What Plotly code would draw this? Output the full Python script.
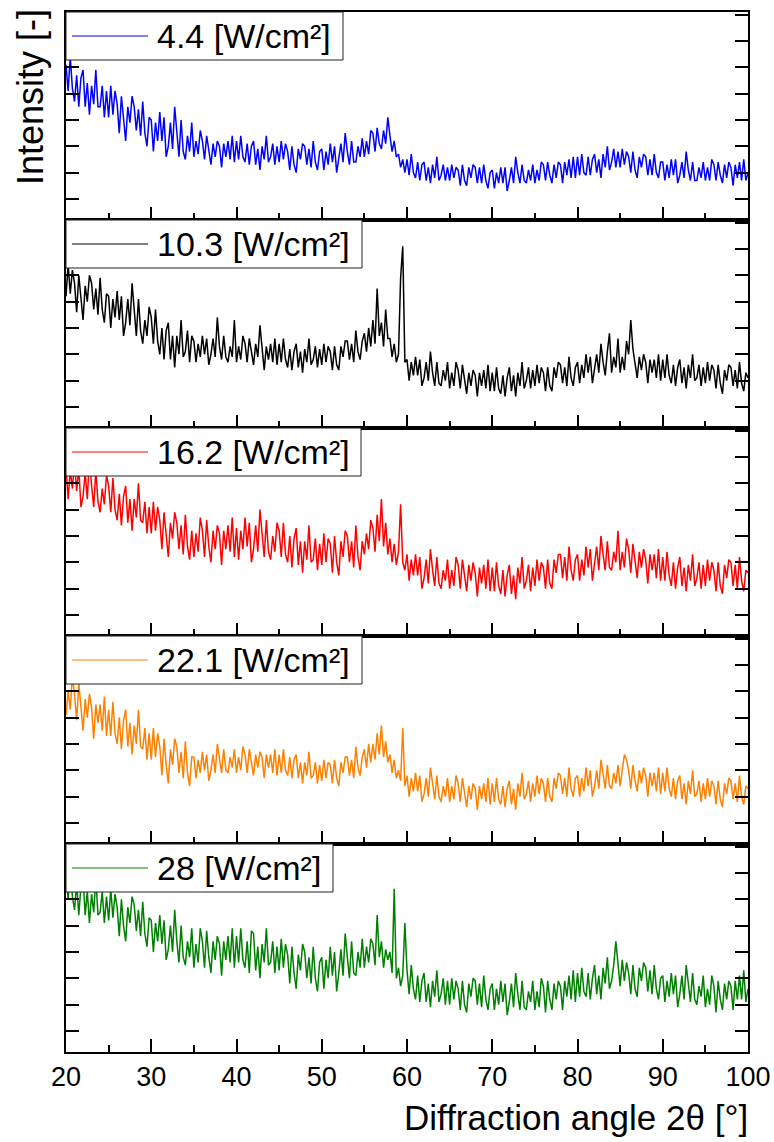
import numpy as np
import plotly.graph_objects as go
from plotly.subplots import make_subplots

# ---------------- data (intensity, arbitrary units; read every 0.25 deg from 20 to 100) ----------------
angle_min, angle_max = 20, 100
series_labels = ["4.4 [W/cm²]", "10.3 [W/cm²]", "16.2 [W/cm²]", "22.1 [W/cm²]", "28 [W/cm²]"]
series_colors = ["#0000FF", "#000000", "#FF0000", "#FF8000", "#008000"]

intensity_4_4 = [
    61,51,64,52, 47,57,45,56, 59,45,54,42, 53,46,59,45, 45,53,41,51,
    41,53,42,51, 46,35,49,39, 32,45,39,49, 45,36,44,34, 47,35,30,41,
    40,28,39,32, 43,32,41,26, 30,39,29,45, 34,26,40,28, 25,34,28,39,
    26,32,27,36, 32,25,34,28, 23,31,26,32, 30,22,31,26, 32,25,34,24,
    32,25,34,26, 24,31,23,30, 32,23,29,21, 30,25,34,24, 26,31,23,30,
    24,32,25,31, 28,21,30,23, 20,29,25,31, 30,23,29,22, 32,24,21,28,
    29,21,28,23, 31,24,30,20, 25,31,24,35, 28,23,32,24, 24,30,26,33,
    26,32,27,36, 35,28,37,31, 29,36,31,41, 34,28,32,26, 27,22,25,20,
    25,19,27,20, 18,24,17,23, 24,17,22,16, 23,18,26,17, 19,23,17,22,
    17,23,18,22, 21,15,23,17, 15,22,18,23, 22,16,22,16, 23,17,14,20,
    21,14,20,16, 22,16,22,13, 17,22,16,26, 20,16,23,17, 16,21,17,23,
    16,21,17,24, 23,17,24,19, 16,23,18,24, 23,16,24,19, 25,18,26,18,
    26,19,27,20, 19,26,19,25, 27,20,25,18, 27,22,30,21, 24,29,22,28,
    22,29,23,28, 26,20,28,21, 18,26,22,27, 26,19,25,19, 27,20,18,24,
    24,17,23,18, 25,19,25,16, 19,24,18,28, 21,17,24,17, 17,22,18,24,
    17,22,17,25, 23,17,24,19, 16,23,18,24, 22,15,23,18, 24,17,25,17,
    20,
]

intensity_10_3 = [
    52,64,53,62, 57,46,60,50, 43,56,50,60, 57,47,55,45, 59,47,42,53,
    52,40,51,44, 54,43,52,37, 42,51,41,57, 45,37,51,39, 34,43,37,48,
    44,34,47,35, 30,40,28,39, 42,28,37,25, 37,30,43,29, 31,39,27,37,
    35,27,34,29, 37,30,36,26, 30,36,29,44, 33,28,37,29, 27,33,29,43,
    27,33,28,37, 34,27,36,30, 26,34,29,41, 32,24,33,28, 34,27,36,26,
    34,27,36,28, 25,32,24,31, 34,25,31,23, 32,27,36,26, 28,33,25,32,
    26,34,27,33, 31,24,33,26, 24,33,29,35, 35,28,34,27, 39,31,28,35,
    38,31,40,33, 43,34,55,37, 42,33,47,36, 36,29,34,27, 30,59,71,27,
    28,20,27,22, 29,22,28,18, 21,27,20,31, 23,18,27,19, 18,24,20,27,
    17,23,18,27, 24,17,26,20, 15,23,18,24, 22,14,23,18, 24,17,26,16,
    23,16,25,17, 15,22,14,21, 25,16,22,14, 23,18,27,17, 20,25,17,24,
    18,26,19,25, 23,16,25,18, 16,25,21,27, 26,19,25,18, 29,21,18,25,
    27,19,26,21, 30,23,29,19, 24,30,23,34, 27,22,31,38, 23,29,25,36,
    23,29,24,35, 30,43,32,26, 21,29,24,30, 27,19,28,23, 28,21,30,20,
    28,21,30,22, 19,26,18,25, 28,19,25,17, 26,21,30,20, 21,26,18,25,
    19,27,20,26, 24,17,26,19, 15,24,20,26, 25,18,24,17, 27,19,16,23,
    21,
]

intensity_16_2 = [
    66,54,65,58, 68,57,66,51, 55,64,54,70, 59,51,65,53, 49,58,52,63,
    59,49,62,50, 46,56,44,55, 59,45,54,42, 54,47,60,46, 45,53,41,51,
    41,53,42,51, 46,35,49,39, 32,45,39,49, 45,35,44,33, 48,36,31,42,
    32,41,34,47, 42,32,46,36, 30,42,35,44, 41,29,42,35, 44,34,47,32,
    43,31,42,35, 47,36,45,30, 35,44,34,50, 40,32,46,34, 31,40,34,45,
    42,32,45,33, 30,40,28,39, 43,29,38,26, 38,31,44,30, 31,39,27,37,
    29,41,30,39, 37,26,40,30, 25,38,32,42, 40,30,38,28, 44,32,27,38,
    33,41,35,46, 43,34,48,38, 54,36,45,33, 39,30,37,29, 34,52,30,27,
    33,23,31,25, 33,25,32,20, 24,31,22,35, 27,21,32,22, 20,27,23,31,
    20,27,21,32, 29,20,31,24, 19,29,23,30, 26,17,28,22, 29,20,31,19,
    28,19,30,21, 18,27,17,25, 29,18,25,16, 28,22,32,20, 23,29,19,28,
    21,31,23,30, 28,20,31,22, 20,31,26,33, 33,24,32,23, 36,27,23,31,
    33,23,31,25, 36,28,35,23, 29,36,27,40, 33,27,38,28, 27,34,30,42,
    27,34,28,39, 35,26,37,30, 24,34,28,35, 31,22,33,27, 33,24,35,23,
    32,23,34,25, 21,30,20,28, 32,21,28,19, 29,23,33,21, 24,30,20,29,
    21,31,23,30, 27,19,30,21, 18,29,24,31, 30,21,29,20, 32,23,19,27,
    26,
]

intensity_22_1 = [
    51,60,53,66, 59,49,63,53, 45,57,50,59, 54,42,55,48, 55,45,58,43,
    53,43,56,44, 40,50,38,49, 53,39,48,36, 47,40,53,39, 38,46,34,44,
    34,46,35,44, 39,28,42,32, 25,38,32,42, 39,29,37,27, 41,29,24,35,
    35,27,34,29, 37,30,36,26, 30,36,29,40, 34,29,38,30, 29,35,31,38,
    29,35,30,39, 36,29,38,32, 28,36,31,37, 35,27,36,31, 36,29,38,28,
    36,29,38,30, 28,35,27,34, 36,27,33,25, 33,28,37,27, 28,33,25,32,
    26,34,27,33, 32,25,34,27, 24,33,29,35, 35,28,34,27, 39,31,28,35,
    38,31,40,33, 40,34,44,36, 47,35,41,33, 36,29,34,27, 30,26,46,24,
    28,20,27,22, 29,22,28,18, 21,27,20,31, 24,19,28,20, 18,24,20,27,
    18,24,19,28, 25,18,27,21, 16,24,19,25, 23,15,24,19, 25,18,27,17,
    25,18,27,19, 17,24,16,23, 26,17,23,15, 25,20,29,19, 21,26,18,25,
    20,28,21,27, 25,18,27,20, 18,27,23,29, 28,21,27,20, 31,23,20,27,
    28,20,27,22, 31,24,30,20, 24,30,23,34, 28,23,32,24, 23,29,25,32,
    24,30,36,34, 30,23,32,26, 22,30,25,31, 28,20,29,24, 29,22,31,21,
    29,22,31,23, 20,27,19,26, 28,19,25,17, 26,21,30,20, 21,26,18,25,
    19,27,20,26, 24,17,26,19, 16,25,21,27, 26,19,25,18, 28,20,17,24,
    23,
]

intensity_28 = [
    70,60,73,61, 56,66,54,65, 68,54,63,51, 62,55,68,54, 55,63,51,61,
    52,64,53,62, 57,46,60,50, 44,57,51,61, 58,48,56,46, 59,47,42,53,
    52,40,51,44, 54,43,52,37, 41,50,40,56, 44,36,50,38, 35,44,38,49,
    34,43,36,49, 44,34,48,38, 32,44,37,46, 43,31,44,37, 46,36,49,34,
    46,36,49,37, 34,44,32,48, 47,33,42,30, 43,36,49,35, 36,44,32,42,
    33,45,34,43, 39,28,42,32, 26,39,33,43, 40,30,38,28, 42,30,25,36,
    38,26,37,30, 42,31,40,25, 32,41,31,47, 38,30,44,32, 31,40,34,45,
    34,42,36,45, 43,35,54,38, 44,34,41,37, 40,32,64,30, 34,27,31,51,
    33,24,35,26, 22,31,21,29, 32,21,28,19, 29,23,33,21, 24,30,20,29,
    20,30,22,29, 26,18,29,20, 17,28,23,30, 29,20,28,19, 31,22,18,26,
    28,18,26,20, 29,21,28,16, 21,28,19,32, 24,18,29,19, 18,25,21,29,
    18,25,19,30, 27,17,29,22, 18,28,22,29, 27,18,29,23, 31,22,33,21,
    32,23,34,25, 23,32,22,30, 35,24,31,22, 34,28,38,26, 29,35,44,34,
    27,37,29,36, 32,24,35,26, 23,34,29,36, 34,25,33,24, 35,26,22,30,
    31,21,29,23, 32,24,31,19, 24,31,22,35, 27,21,32,22, 20,27,23,31,
    19,26,20,31, 27,17,29,22, 18,28,22,29, 27,18,29,22, 31,22,33,21,
    26,
]

all_series = [intensity_4_4, intensity_10_3, intensity_16_2, intensity_22_1, intensity_28]

x_ticks = [20, 30, 40, 50, 60, 70, 80, 90, 100]

# ---------------- figure ----------------
FONT = "Liberation Sans, Arial, Helvetica, sans-serif"
n = len(all_series)
fig = make_subplots(rows=n, cols=1, shared_xaxes=True, vertical_spacing=0)

for i, vals in enumerate(all_series):
    xs = np.linspace(angle_min, angle_max, len(vals))
    fig.add_trace(
        go.Scatter(x=xs, y=vals, mode="lines",
                   line=dict(color=series_colors[i], width=1.5),
                   name=series_labels[i], showlegend=False),
        row=i + 1, col=1)

fig.update_xaxes(
    range=[angle_min, angle_max], tickvals=x_ticks, ticks="inside", ticklen=13, tickwidth=2,
    tickcolor="black", automargin=False,
    minor=dict(dtick=5, tick0=0, ticks="inside", ticklen=7, tickwidth=2, tickcolor="black"),
    showline=True, linewidth=2, linecolor="black", mirror=True,
    showgrid=False, zeroline=False,
    tickfont=dict(family=FONT, size=27, color="black"))
fig.update_yaxes(
    range=[2, 81], dtick=10, tick0=0, ticks="inside", ticklen=13, tickwidth=2,
    tickcolor="black", showticklabels=False, automargin=False,
    showline=True, linewidth=2, linecolor="black", mirror="ticks",
    showgrid=False, zeroline=False)

# legend boxes drawn per panel (in axis-domain coordinates)
W, H = 774, 1142
M_L, M_R, M_T, M_B = 66, 26, 12, 90
plot_w = W - M_L - M_R
plot_h = H - M_T - M_B
panel_h = plot_h / n
box_px_w = [277, 296, 295, 296, 267]
box_px_h = 48
shapes, annotations = [], []
for i in range(n):
    sfx = "" if i == 0 else str(i + 1)
    xr, yr = f"x{sfx} domain", f"y{sfx} domain"
    y_bot = 1 - box_px_h / panel_h
    y_mid = 1 - box_px_h / 2 / panel_h
    shapes.append(dict(type="rect", xref=xr, yref=yr, x0=0, x1=box_px_w[i] / plot_w,
                       y0=y_bot, y1=1, fillcolor="white",
                       line=dict(color="#222222", width=1), layer="above"))
    shapes.append(dict(type="line", xref=xr, yref=yr, x0=6 / plot_w, x1=82 / plot_w,
                       y0=y_mid, y1=y_mid, line=dict(color=series_colors[i], width=1),
                       layer="above"))
    annotations.append(dict(xref=xr, yref=yr, x=89 / plot_w, y=y_mid, xanchor="left",
                            yanchor="middle", text=series_labels[i], showarrow=False,
                            font=dict(family=FONT, size=34, color="black")))

annotations.append(dict(xref="paper", yref="paper", x=0, xshift=-36, y=1 - 85 / plot_h,
                        xanchor="center", yanchor="middle", textangle=-90,
                        text="Intensity [-]", showarrow=False,
                        font=dict(family=FONT, size=36, color="black")))
annotations.append(dict(xref="paper", yref="paper", x=1, xshift=2, y=-65 / plot_h,
                        xanchor="right", yanchor="middle",
                        text="Diffraction angle 2θ [°]", showarrow=False,
                        font=dict(family=FONT, size=35, color="black")))

fig.update_layout(
    width=W, height=H, autosize=False,
    margin=dict(l=M_L, r=M_R, t=M_T, b=M_B, autoexpand=False),
    paper_bgcolor="white", plot_bgcolor="white",
    shapes=shapes, annotations=annotations,
    font=dict(family=FONT, color="black"),
    showlegend=False)

fig.write_html("out.html", config={"responsive": False})
